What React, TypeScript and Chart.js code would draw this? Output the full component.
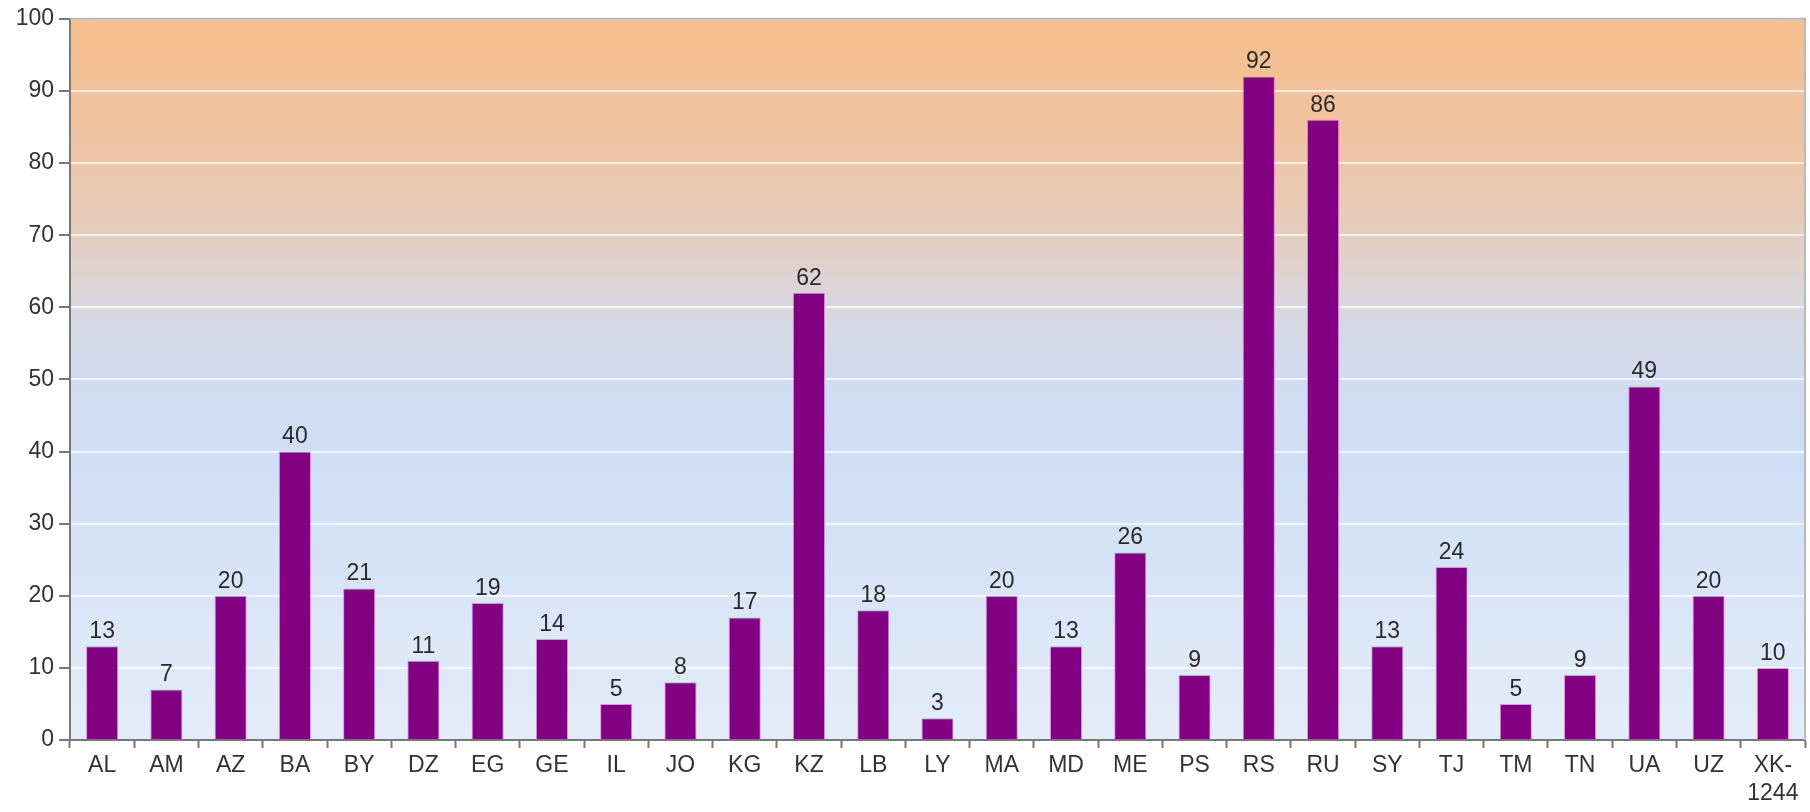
import React, { useEffect, useRef } from "react";
import { Chart, registerables } from "chart.js";

Chart.register(...registerables);

const categories: (string | string[])[] = [
  "AL", "AM", "AZ", "BA", "BY", "DZ", "EG", "GE", "IL", "JO", "KG", "KZ", "LB", "LY",
  "MA", "MD", "ME", "PS", "RS", "RU", "SY", "TJ", "TM", "TN", "UA", "UZ", ["XK-", "1244"],
];
const values: number[] = [
  13, 7, 20, 40, 21, 11, 19, 14, 5, 8, 17, 62, 18, 3, 20, 13, 26, 9, 92, 86, 13, 24, 5, 9, 49, 20, 10,
];
const yTicks: number[] = [0, 10, 20, 30, 40, 50, 60, 70, 80, 90, 100];

const FONT = "'Liberation Sans', Arial, sans-serif";

const bgPlugin = {
  id: "bgGradient",
  beforeDraw(chart: any) {
    const { ctx, chartArea } = chart;
    if (!chartArea) return;
    const { left, top, right, bottom } = chartArea;
    const g = ctx.createLinearGradient(0, top, 0, bottom);
    g.addColorStop(0, "#F7BE8B");
    g.addColorStop(0.15, "#F0C3A0");
    g.addColorStop(0.28, "#E6CCBA");
    g.addColorStop(0.4, "#D9D7DF");
    g.addColorStop(0.5, "#D1DCF0");
    g.addColorStop(0.62, "#CFDFF5");
    g.addColorStop(1, "#E4ECF9");
    ctx.save();
    ctx.fillStyle = g;
    ctx.fillRect(left, top, right - left, bottom - top);
    ctx.restore();
  },
  afterDraw(chart: any) {
    const { ctx, chartArea } = chart;
    const { left, top, right, bottom } = chartArea;
    ctx.save();
    ctx.strokeStyle = "#B8B8B8";
    ctx.lineWidth = 2;
    ctx.beginPath();
    ctx.moveTo(left, top);
    ctx.lineTo(right, top);
    ctx.lineTo(right, bottom);
    ctx.stroke();
    ctx.restore();
  },
};

const labelPlugin = {
  id: "valueLabels",
  afterDatasetsDraw(chart: any) {
    const { ctx } = chart;
    const meta = chart.getDatasetMeta(0);
    ctx.save();
    ctx.font = `23px ${FONT}`;
    ctx.fillStyle = "#2a2a2a";
    ctx.textAlign = "center";
    ctx.textBaseline = "bottom";
    meta.data.forEach((bar: any, i: number) => {
      ctx.fillText(String(values[i]), bar.x, bar.y - 3);
    });
    ctx.restore();
  },
};

export default function App() {
  const ref = useRef<HTMLCanvasElement | null>(null);

  useEffect(() => {
    document.body.style.margin = "0";
    const canvas = ref.current!;
    const chart = new Chart(canvas, {
      type: "bar",
      data: {
        labels: categories,
        datasets: [
          {
            data: values,
            backgroundColor: "#820082",
            borderColor: "rgba(220,80,220,0.6)",
            borderWidth: 1,
            barPercentage: 0.5,
            categoryPercentage: 1,
          },
        ],
      },
      options: {
        responsive: false,
        animation: false,
        layout: { padding: { top: 18, right: 5, bottom: 0, left: 0 } },
        plugins: { legend: { display: false }, tooltip: { enabled: false } },
        scales: {
          x: {
            grid: {
              offset: true,
              drawOnChartArea: false,
              tickLength: 8,
              tickColor: "#777",
              tickWidth: 2,
            },
            border: { color: "#777", width: 2 },
            ticks: {
              color: "#333",
              font: { family: FONT, size: 23 },
              padding: 4,
              maxRotation: 0,
              autoSkip: false,
            },
            afterFit(scale: any) {
              scale.height = 72;
            },
          },
          y: {
            min: 0,
            max: 100,
            afterBuildTicks(scale: any) {
              scale.ticks = yTicks.map((v) => ({ value: v }));
            },
            grid: {
              color: "rgba(255,255,255,0.7)",
              lineWidth: 2,
              tickLength: 11,
              tickColor: "#777",
              tickWidth: 2,
            },
            border: { color: "#777", width: 2 },
            ticks: {
              color: "#333",
              font: { family: FONT, size: 23 },
              padding: 5,
            },
            afterFit(scale: any) {
              scale.width = 70;
            },
          },
        },
      },
      plugins: [bgPlugin, labelPlugin],
    });
    return () => chart.destroy();
  }, []);

  return (
    <div style={{ position: "absolute", left: 0, top: 0, width: 1810, height: 812 }}>
      <canvas ref={ref} width={1810} height={812} />
    </div>
  );
}
